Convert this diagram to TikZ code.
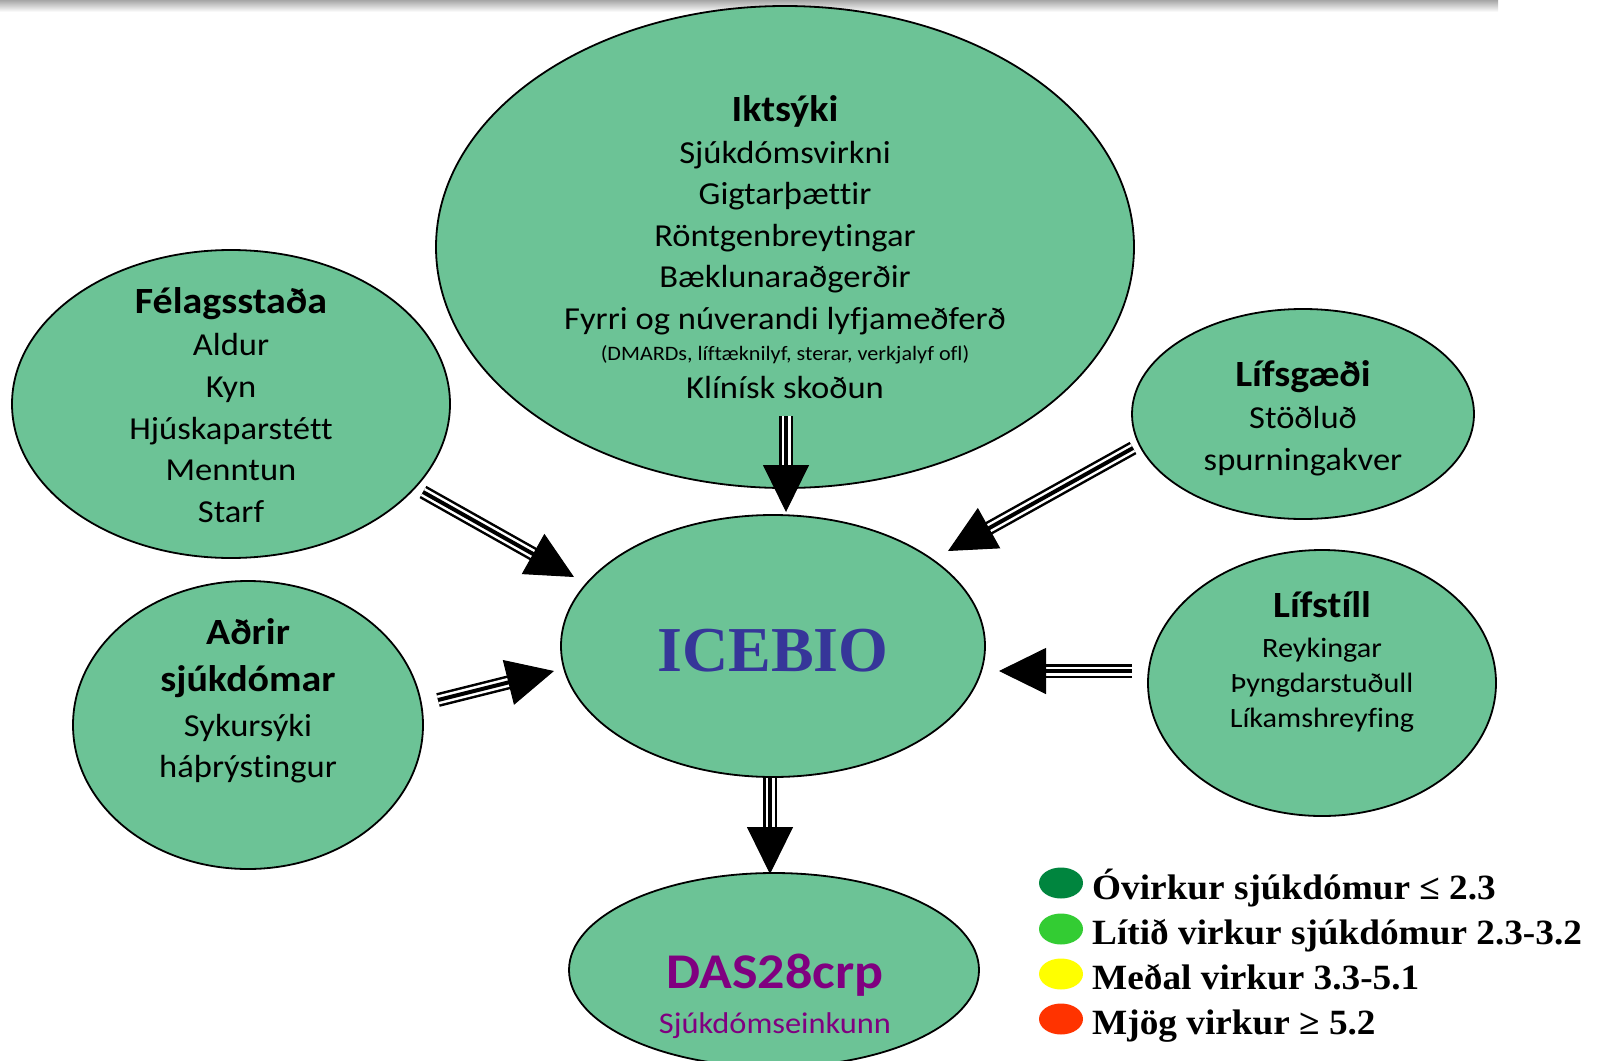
\documentclass[tikz,border=0pt]{standalone}
\usepackage{fontspec}
\setmainfont{Carlito}[FakeStretch=1.08, Ligatures=NoCommon]
\newfontfamily\tnr{Liberation Serif}
\newfontfamily\tnrw{Liberation Serif}[FakeStretch=1.05]
\usetikzlibrary{shapes.geometric,arrows.meta}
\definecolor{ellfill}{RGB}{108,195,150}
\definecolor{iceblue}{RGB}{54,54,153}
\definecolor{daspurple}{RGB}{128,0,128}
\definecolor{lgA}{RGB}{0,133,62}
\definecolor{lgB}{RGB}{51,204,51}
\definecolor{lgC}{RGB}{255,255,0}
\definecolor{lgD}{RGB}{255,51,0}
\tikzset{
  ell/.style={ellipse, draw=black, line width=1.8pt, fill=ellfill, inner sep=0pt},
  txt/.style={anchor=base, inner sep=0pt, font=\fontsize{32}{38}\selectfont},
  hd/.style={anchor=base, inner sep=0pt, font=\bfseries\fontsize{37}{44}\selectfont},
  sml/.style={anchor=base, inner sep=0pt, font=\fontsize{28}{33}\selectfont},
  tiny/.style={anchor=base, inner sep=0pt, font=\fontsize{20.5}{24}\selectfont},
  lgtxt/.style={anchor=base west, inner sep=0pt, font=\tnrw\bfseries\fontsize{35.5}{42}\selectfont},
  lgdot/.style={ellipse, inner sep=0pt, minimum width=44pt, minimum height=31pt},
  tarrow/.style={-{Triangle[length=47pt,width=46pt]}, line width=1pt,
    preaction={draw=black, line width=14pt, shorten >=40pt, -},
    preaction={draw=white, line width=9pt, shorten >=40pt, -},
    preaction={draw=black, line width=4pt, shorten >=40pt, -}}
}
\begin{document}
\begin{tikzpicture}[x=1pt,y=-1pt]
\clip (0,0) rectangle (1598,1060);
\fill[white] (0,0) rectangle (1598,1060);
\shade[top color=black!35, bottom color=white] (0,0) rectangle (1498,12);

% ellipses
\node[ell, minimum width=698pt, minimum height=482pt] (ik) at (785,247) {};
\node[ell, minimum width=438pt, minimum height=308pt] (fel) at (231,404) {};
\node[ell, minimum width=350pt, minimum height=288pt] (adr) at (248,725) {};
\node[ell, minimum width=424pt, minimum height=262pt] (ice) at (773,646) {};
\node[ell, minimum width=342pt, minimum height=210pt] (lsg) at (1303,414) {};
\node[ell, minimum width=348pt, minimum height=266pt] (lst) at (1322,683) {};
\node[ell, minimum width=410pt, minimum height=194pt] (das) at (774,970) {};

% Iktsyki text
\node[hd] (ik1) at (785,121) {Iktsýki};
\node[txt] (ik2) at (785,163) {Sjúkdómsvirkni};
\node[txt] (ik3) at (785,204) {Gigtarþættir};
\node[txt] (ik4) at (785,246) {Röntgenbreytingar};
\node[txt] (ik5) at (785,287) {Bæklunaraðgerðir};
\node[txt] (ik6) at (785,329) {Fyrri og núverandi lyfjameðferð};
\node[tiny] (ik7) at (785,360) {(DMARDs, líftæknilyf, sterar, verkjalyf ofl)};
\node[txt] (ik8) at (785,398) {Klínísk skoðun};

% Felagsstada
\node[hd] (fe1) at (231,313) {Félagsstaða};
\node[txt] (fe2) at (231,355) {Aldur};
\node[txt] (fe3) at (231,397) {Kyn};
\node[txt] (fe4) at (231,439) {Hjúskaparstétt};
\node[txt] (fe5) at (231,480) {Menntun};
\node[txt] (fe6) at (231,522) {Starf};

% Adrir
\node[hd] (ad1) at (248,644) {Aðrir};
\node[hd] (ad2) at (248,691) {sjúkdómar};
\node[txt] (ad3) at (248,736) {Sykursýki};
\node[txt] (ad4) at (248,777) {háþrýstingur};

% Lifsgaedi
\node[hd] (lg1) at (1303,386) {Lífsgæði};
\node[txt] (lg2) at (1303,428) {Stöðluð};
\node[txt] (lg3) at (1303,470) {spurningakver};

% Lifstill
\node[hd] (ls1) at (1322,617) {Lífstíll};
\node[sml] (ls2) at (1322,657) {Reykingar};
\node[sml] (ls3) at (1322,692) {Þyngdarstuðull};
\node[sml] (ls4) at (1322,727) {Líkamshreyfing};

% ICEBIO
\node[anchor=base, inner sep=0pt, text=iceblue, font=\tnr\bfseries\fontsize{64}{70}\selectfont] (icet) at (773,671) {ICEBIO};

% DAS28crp
\node[anchor=base, inner sep=0pt, text=daspurple, font=\bfseries\fontsize{50}{58}\selectfont] (das1) at (775,988) {DAS28crp};
\node[anchor=base, inner sep=0pt, text=daspurple, font=\fontsize{30}{35}\selectfont] (das2) at (775,1033) {Sjúkdómseinkunn};

% arrows
\coordinate (a1s) at (786,416); \coordinate (a1e) at (786,512);
\coordinate (a2s) at (423,492); \coordinate (a2e) at (574,577);
\coordinate (a3s) at (1133,448); \coordinate (a3e) at (948,551);
\coordinate (a4s) at (438,700); \coordinate (a4e) at (554,671);
\coordinate (a5s) at (1132,671); \coordinate (a5e) at (999,671);
\coordinate (a6s) at (770,778); \coordinate (a6e) at (770,874);
\draw[tarrow] (a1s) -- (a1e);
\draw[tarrow] (a2s) -- (a2e);
\draw[tarrow] (a3s) -- (a3e);
\draw[tarrow] (a4s) -- (a4e);
\draw[tarrow] (a5s) -- (a5e);
\draw[tarrow] (a6s) -- (a6e);

% legend
\node[lgdot, fill=lgA] (d1) at (1061,883) {};
\node[lgdot, fill=lgB] (d2) at (1061,929) {};
\node[lgdot, fill=lgC] (d3) at (1061,974) {};
\node[lgdot, fill=lgD] (d4) at (1061,1019) {};
\node[lgtxt] (l1) at (1092,899) {Óvirkur sjúkdómur ≤ 2.3};
\node[lgtxt] (l2) at (1092,944) {Lítið virkur sjúkdómur 2.3-3.2};
\node[lgtxt] (l3) at (1092,989) {Meðal virkur 3.3-5.1};
\node[lgtxt] (l4) at (1092,1034) {Mjög virkur ≥ 5.2};
\end{tikzpicture}
\end{document}
